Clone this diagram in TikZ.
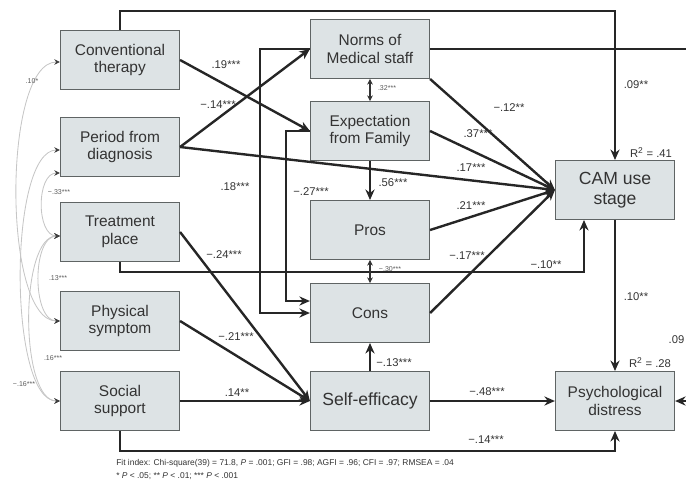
\documentclass[tikz,border=0pt]{standalone}
\usepackage{fontspec}
\setmainfont{Liberation Sans}
\usetikzlibrary{arrows.meta, positioning, calc}

\definecolor{boxfill}{RGB}{221,227,229}
\definecolor{boxline}{RGB}{95,100,100}

\begin{document}
\begin{tikzpicture}[
		x = 0.025cm, y = -0.025cm, % pixel grid, y runs downwards
		> = {Stealth[length=7.5pt,width=6.5pt]}, % arrow head style
		link/.style = {draw=black!85, line width=1.7pt},
		thinlink/.style = {draw=black!85, line width=1.1pt},
		thinarrow/.style = {draw=black!80, line width=0.8pt, >={Stealth[length=4pt,width=4pt]}},
		corr/.style = {<->, draw=gray!45, line width=0.6pt, >={Stealth[length=4pt,width=4pt,color=black!75]}}
		]
		
		\tikzstyle{box}=[
		draw = boxline,
		line width = 0.8pt,
		fill = boxfill,
		minimum width = 2.975cm,
		minimum height = 1.47cm,
		align = center,
		text = black!80,
		font = \fontsize{11}{12.5}\selectfont
		]
		\tikzstyle{bigbox}=[box, font = \fontsize{12.5}{14}\selectfont]
		\tikzstyle{lab}=[font = \fontsize{8}{9}\selectfont, text = black!80, inner sep = 1pt]
		\tikzstyle{tiny}=[font = \fontsize{5}{6}\selectfont, text = black!65, inner sep = 0.5pt]
		\tikzstyle{note}=[font = \fontsize{6}{7}\selectfont, text = black!80, inner sep = 0pt, anchor = west]
		
		\useasboundingbox (0,0) rectangle (686,482);
		
		% predictors
		\node[box] (conv) at (120,60) {Conventional\\therapy};
		\node[box] (period) at (120,147) {Period from\\diagnosis};
		\node[box] (place) at (120,232) {Treatment\\place};
		\node[box] (symptom) at (120,321) {Physical\\symptom};
		\node[box] (support) at (120,401) {Social\\support};
		
		% beliefs
		\node[box] (norms) at (370,49) {Norms of\\Medical staff};
		\node[box] (family) at (370,131) {Expectation\\from Family};
		\node[box] (pros) at (370,230) {Pros};
		\node[box] (cons) at (370,313) {Cons};
		\node[bigbox] (efficacy) at (370,401) {Self-efficacy};
		
		% outcomes
		\node[bigbox] (cam) at (615,190) {CAM use\\stage};
		\node[box] (distress) at (615,401) {Psychological\\distress};
		
		\coordinate (rimnorms) at (690,49);
		\coordinate (rimdistress) at (690,401);
		
		% paths into CAM use stage
		\draw[thinlink, ->] (conv.north) -- ++(0,-19) -| (cam.north);
		\draw[thinlink] (norms.east) -- (rimnorms);
		\draw[link, ->] (norms.south east) -- (cam.west);
		\draw[link, ->] (family.east) -- (cam.west);
		\draw[link, ->] (period.east) -- (cam.west);
		\draw[link, ->] (pros.east) -- (cam.west);
		\draw[link, ->] (cons.east) -- (cam.west);
		\draw[thinlink, ->] (place.south) -- ++(0,10) -| ($(cam.south)+(-31,0)$);
		
		% paths into Psychological distress
		\draw[thinlink, ->] (cam.south) -- (distress.north);
		\draw[link, ->] (efficacy.east) -- (distress.west);
		\draw[link, ->] (support.south) -- ++(0,20) -| (distress.south);
		\draw[link, ->] (rimdistress) -- (distress.east);
		
		% paths into Self-efficacy
		\draw[link, ->] (support.east) -- (efficacy.west);
		\draw[link, ->] (symptom.east) -- (efficacy.west);
		\draw[link, ->] (place.east) -- (efficacy.west);
		\draw[link, ->] (efficacy.north) -- (cons.south);
		
		% paths between beliefs
		\draw[link, ->] (conv.east) -- (family.west);
		\draw[link, ->] (period.east) -- (norms.west);
		\draw[link, ->] (norms.west) -- ++(-50,0) |- (cons.west);
		\draw[link, ->] (family.west) -- ++(-24,0) |- ($(cons.west)+(0,-12)$);
		\draw[link, ->] (family.south) -- (pros.north);
		\draw[thinarrow, <->] (norms.south) -- (family.north);
		\draw[thinarrow, <->] (pros.south) -- (cons.north);
		
		% correlations among predictors
		\draw[corr] ($(conv.west)+(0,2)$) to[out=180, in=180, looseness=0.57] (symptom.west);
		\draw[corr] ($(period.west)+(0,3)$) to[out=180, in=180, looseness=0.53] (support.west);
		\draw[corr] ($(period.west)+(0,26)$) to[out=180, in=180, looseness=0.97] ($(place.west)+(0,4)$);
		\draw[corr] ($(place.west)+(0,4)$) to[out=180, in=180, looseness=0.85] (symptom.west);
		\draw[corr] ($(place.west)+(0,4)$) to[out=180, in=180, looseness=0.63] (support.west);
		
		% coefficients
		\node[lab] (c09) at (636,85) {.09**};
		\node[lab] (c12) at (509,108) {−.12**};
		\node[lab] (c37) at (478,134) {.37***};
		\node[lab] (c17) at (471,168) {.17***};
		\node[lab] (c21) at (471,206) {.21***};
		\node[lab] (c17n) at (467,256) {−.17***};
		\node[lab] (c10n) at (546,265) {−.10**};
		\node[lab] (c10) at (636,297) {.10**};
		\node[lab] (r41) at (651,153) {R\textsuperscript{2} = .41};
		\node[lab] (r28) at (650,363) {R\textsuperscript{2} = .28};
		\node[lab, anchor=west] (c09r) at (667,340) {.09};
		\node[lab] (c48) at (487,392) {−.48***};
		\node[lab] (c14n) at (486,440) {−.14***};
		\node[lab] (c19) at (226,65) {.19***};
		\node[lab] (c14nn) at (218,105) {−.14***};
		\node[lab] (c18) at (235,187) {.18***};
		\node[lab] (c27) at (311,192) {−.27***};
		\node[lab] (c56) at (393,183) {.56***};
		\node[lab] (c24) at (224,255) {−.24***};
		\node[lab] (c21n) at (236,337) {−.21***};
		\node[lab] (c14) at (237,393) {.14**};
		\node[lab] (c13) at (394,363) {−.13***};
		\node[tiny] (c32) at (387,88) {.32***};
		\node[tiny] (c30) at (390,269) {−.30***};
		
		% correlation values
		\node[tiny] (r10) at (32,81) {.10*};
		\node[tiny] (r33) at (59,192) {−.33***};
		\node[tiny] (r13) at (58,278) {.13***};
		\node[tiny] (r16) at (53,358) {.16***};
		\node[tiny] (r16n) at (24,384) {−.16***};
		
		% fit indices
		\node[note] (fit) at (116,463) {Fit index: Chi-square(39) = 71.8, \textit{P} = .001; GFI = .98; AGFI = .96; CFI = .97; RMSEA = .04};
		\node[note] (sig) at (116,476) {* \textit{P} < .05; ** \textit{P} < .01; *** \textit{P} < .001};
		
\end{tikzpicture}
\end{document}
